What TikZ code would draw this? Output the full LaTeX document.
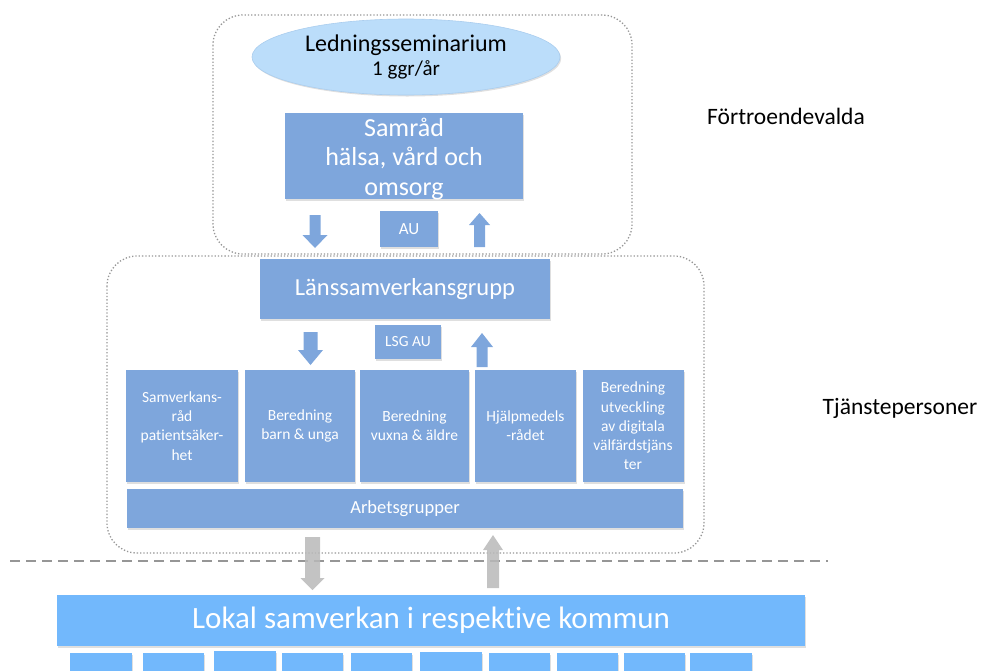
\documentclass[tikz,border=0pt]{standalone}
\usepackage{fontspec}
\setmainfont{Carlito}[Ligatures=NoCommon]
\usetikzlibrary{shapes.geometric,shadows}
\definecolor{boxblue}{RGB}{126,166,220}
\definecolor{ellblue}{RGB}{187,221,250}
\definecolor{ellline}{RGB}{170,205,238}
\definecolor{lokblue}{RGB}{114,184,252}
\definecolor{dotgray}{RGB}{150,150,150}
\definecolor{arrgray}{RGB}{185,185,185}
\definecolor{dashgray}{RGB}{150,150,150}
\tikzset{
  shadowed/.style={drop shadow={opacity=0.25,shadow xshift=1.2pt,shadow yshift=-1.5pt}},
  bluebox/.style={fill=boxblue,shadowed,inner sep=0pt,text=white,align=center},
  lokbox/.style={fill=lokblue,shadowed,inner sep=0pt,text=white,align=center},
  smallbox/.style={bluebox,font=\fontsize{15.5}{19.3}\selectfont},
  group/.style={draw=dotgray,line width=1.3pt,dotted,rounded corners=30pt},
  sidelabel/.style={font=\fontsize{23.5}{27}\selectfont,text=black},
}
% block arrow: cx, ytail, ytip, shaft half width, head half width, head length, colour
\newcommand{\blkarrow}[7]{%
  \fill[#7] ({#1-#4},#2) -- ({#1-#4},{#3-#6}) -- ({#1-#5},{#3-#6}) -- (#1,#3)
    -- ({#1+#5},{#3-#6}) -- ({#1+#4},{#3-#6}) -- ({#1+#4},#2) -- cycle;}
\begin{document}
\begin{tikzpicture}[x=1pt,y=-1pt]
\useasboundingbox (0,0) rectangle (982,670);
\clip (0,0) rectangle (982,670);

% group outlines
\draw[group] (213,15) rectangle (632,254);
\draw[group] (107,256) rectangle (704,553);

% top group
\node[ellipse,fill=ellblue,draw=ellline,line width=0.6pt,shadowed,minimum width=308pt,minimum height=76pt,inner sep=0pt,align=center,font=\fontsize{24}{25}\selectfont]
  (sem) at (406,57) {Ledningsseminarium\\[-1pt]{\fontsize{21}{20}\selectfont 1 ggr/år}};
\node[bluebox,minimum width=238pt,minimum height=86pt] (samrad) at (404,156) {};
\node[text=white,align=center,inner sep=0pt,font=\fontsize{26}{29.5}\selectfont]
  (samradtxt) at (404,159) {Samråd\\hälsa, vård och\\omsorg};
\node[bluebox,minimum width=58pt,minimum height=36pt,font=\fontsize{17}{20}\selectfont]
  (au) at (409,229) {AU};
\blkarrow{315}{215}{248}{5.5}{12.5}{13}{boxblue}
\blkarrow{479.5}{247}{213}{5.5}{10.5}{-12}{boxblue}

% second group
\node[bluebox,minimum width=290pt,minimum height=60pt,font=\fontsize{24.5}{28}\selectfont]
  (lsg) at (405,289) {Länssamverkansgrupp};
\node[bluebox,minimum width=66pt,minimum height=34pt,font=\fontsize{15.5}{18}\selectfont]
  (lsgau) at (408,342) {LSG AU};
\blkarrow{310.5}{332}{365}{7}{12.5}{15}{boxblue}
\blkarrow{482}{367}{333}{5.5}{11}{-14}{boxblue}

\node[smallbox,minimum width=112pt,minimum height=112pt] (b1) at (182,426) {Samverkans-\\råd\\patientsäker-\\het};
\node[smallbox,minimum width=110pt,minimum height=112pt] (b2) at (300,426) {Beredning\\barn \& unga};
\node[smallbox,minimum width=109pt,minimum height=112pt] (b3) at (414.5,426) {Beredning\\vuxna \& äldre};
\node[smallbox,minimum width=101pt,minimum height=112pt] (b4) at (525.5,426) {Hjälpmedels\\-rådet};
\node[smallbox,minimum width=101pt,minimum height=112pt] (b5) at (633,426) {Beredning\\utveckling\\av digitala\\välfärdstjäns\\ter};
\node[bluebox,minimum width=556pt,minimum height=39pt,font=\fontsize{18.5}{22}\selectfont]
  (arb) at (405,508.5) {Arbetsgrupper};

% divider
\draw[dashgray,line width=2.5pt,dash pattern=on 10pt off 6pt] (10,561) -- (828,561);

% gray arrows
\blkarrow{312.5}{537}{590}{7.5}{12}{12}{arrgray,opacity=0.85}
\blkarrow{493}{588}{535}{6}{10}{-15}{arrgray,opacity=0.85}

% local level
\node[lokbox,minimum width=748pt,minimum height=51pt,font=\fontsize{31}{34}\selectfont]
  (lokal) at (431,620.5) {Lokal samverkan i respektive kommun};
\foreach \xa/\xb/\yt [count=\i] in {70/132/653,143/204/653,214/276/651,282/343/653,351/412/653,420/482/652,489/550/653,557/618/653,624/685/653,690/752/653}{
  \node[lokbox,minimum width={\xb-\xa},minimum height=30pt,anchor=north west] (k\i) at (\xa,\yt) {};
}

% side labels
\node[sidelabel] (fv) at (786,116) {Förtroendevalda};
\node[sidelabel] (tp) at (900,408) {Tjänstepersoner};
\end{tikzpicture}
\end{document}
